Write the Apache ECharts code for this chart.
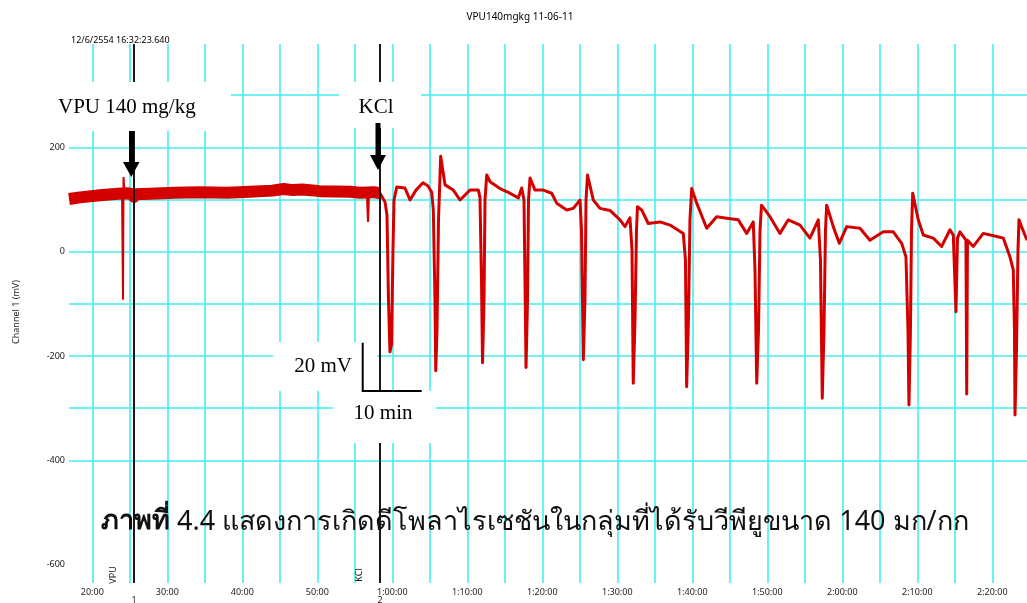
<!DOCTYPE html>
<html>
<head>
<meta charset="utf-8">
<script src="https://cdn.jsdelivr.net/npm/echarts@6/dist/echarts.min.js"></script>
<style>
  html, body { margin: 0; padding: 0; background: #fff; }
  #chart { width: 1027px; height: 603px; }
</style>
</head>
<body>
<div id="chart"></div>
<script>
// Recording: Channel 1 (mV) against elapsed time in minutes
const chartTitle = 'VPU140mgkg 11-06-11';
const recordStamp = '12/6/2554 16:32:23.640';
const channelName = 'Channel 1 (mV)';

// Axis ticks
const xLabelMinutes = [20, 30, 40, 50, 60, 70, 80, 90, 100, 110, 120, 130, 140];
const xGridMinutes = [20, 25, 30, 35, 40, 45, 50, 55, 60, 65, 70, 75, 80, 85, 90, 95, 100, 105, 110, 115, 120, 125, 130, 135, 140];
const yLabelValues = [-600, -400, -200, 0, 200];
const yGridValues = [300, 200, 100, 0, -100, -200, -300, -400];

// Drug / KCl event markers
const eventTimes = [25.56, 58.36];
const eventNames = ['VPU', 'KCl'];
const eventNumbers = ['1', '2'];

// Baseline before KCl (noisy band)
const baseTime = [16.89, 18.36, 21.03, 23.43, 24.63, 25.43, 25.56, 25.7, 27.69, 31.0, 34.36, 37.96, 41.03, 44.0, 45.5, 46.76, 48.0, 50.36, 54.36, 55.69, 57.5, 58.36];
const baseMv   = [101,   104,   108,   111,   112,   110,   105,   110,  111,   113,  114,   113,   115,   117,  120,  118,   119,  116,   115,   113,   114,  112];

// Isolated artefact spikes on the baseline
const spikeTime = [23.96, 24.09, 24.16, 24.3, null, 56.6, 56.76, 56.9];
const spikeMv   = [112,   -92,   143,   112,  null, 113,  57,    113];

// Spreading depolarisation episodes after KCl
const respTime = [58.36, 59.03, 59.29, 59.49, 59.69, 59.89, 60.09, 60.23, 60.59, 61.69, 62.36, 63.16, 64.09, 64.76, 65.25, 65.47, 65.69, 65.79, 65.96, 66.16, 66.45,
  67.03, 68.13, 69.03, 70.36, 71.47, 71.69, 71.89, 72.03, 72.23, 72.36, 72.59,
  73.03, 74.36, 75.69, 76.80, 77.25, 77.56, 77.69, 77.83, 78.03, 78.16, 78.36,
  79.03, 80.13, 81.25, 81.92, 83.25, 84.13, 85.03, 85.23, 85.47, 85.69, 85.83, 86.03,
  86.80, 87.69, 89.03, 90.36, 91.03, 91.69, 91.96, 92.13, 92.36, 92.56, 92.69,
  93.25, 94.13, 95.69, 97.03, 98.80, 99.09, 99.25, 99.49, 99.69, 99.92,
  100.59, 101.92, 103.25, 104.59, 106.13, 107.25, 108.13, 108.36, 108.59, 108.83, 109.03, 109.23,
  110.36, 111.69, 112.80, 114.36, 115.69, 116.80, 117.09, 117.33, 117.56, 117.76, 117.92,
  118.80, 119.60, 120.59, 122.36, 123.69, 125.47, 126.80, 127.92, 128.49, 128.76, 128.89, 129.09, 129.23, 129.39,
  130.13, 130.80, 132.13, 133.25, 134.36, 134.80, 135.16, 135.36, 135.69, 136.49, 136.59, 136.69,
  137.47, 138.80, 140.59, 141.47, 142.36, 142.80, 142.96, 143.03, 143.23, 143.43, 143.56, 143.96, 144.63];
const respMv = [112, 95, 70, -93, -192, -178, 3, 99, 124, 122, 99, 118, 132, 126, 114, 80, -93, -228, -150, 61, 183,
  128, 118, 99, 118, 118, 104, -54, -213, -93, 99, 147,
  134, 121, 112, 103, 122, 99, -54, -222, -93, 99, 141,
  118, 118, 112, 93, 80, 83, 99, 41, -207, -93, 99, 147,
  99, 83, 79, 61, 48, 65, 3, -252, -131, 41, 86,
  80, 54, 57, 51, 35, -16, -259, -131, 61, 121,
  93, 45, 67, 64, 61, 35, 57, -35, -252, -150, 41, 89,
  67, 35, 61, 51, 26, 61, -16, -281, -150, 41, 89,
  48, 16, 48, 45, 22, 38, 38, 16, -10, -150, -294, -150, 41, 112,
  61, 32, 26, 10, 42, 32, -115, 26, 38, 22, -273, 22,
  10, 35, 29, 26, -10, -35, -150, -313, -188, 3, 61, 46, 22];

// Figure caption
const captionBold = 'ภาพที่';
const captionText = ' 4.4 แสดงการเกิดดีโพลาไรเซชันในกลุ่มที่ได้รับวีพียูขนาด 140 มก/กก';

const pair = (ts, vs) => ts.map((t, i) => (t === null ? '-' : [t, vs[i]]));

function fmtTime(m) {
  const h = Math.floor(m / 60), mm = m % 60;
  return h ? h + ':' + String(mm).padStart(2, '0') + ':00' : mm + ':00';
}

const GRID = '#45eeee';
const TRACE = '#d40000';
const SMALL = '"Noto Sans", "DejaVu Sans", sans-serif';
const SERIF = '"Liberation Serif", "DejaVu Serif", serif';

const chart = echarts.init(document.getElementById('chart'), null, { renderer: 'canvas' });

const option = {
  animation: false,
  backgroundColor: '#fff',
  grid: { left: 69, right: 0, top: 44, bottom: 20 },
  xAxis: {
    type: 'value', min: 16.89, max: 144.63,
    axisLine: { show: false }, axisTick: { show: false }, splitLine: { show: false },
    axisLabel: { customValues: xLabelMinutes, formatter: fmtTime, margin: 5, fontSize: 9, color: '#222', fontFamily: SMALL }
  },
  yAxis: {
    type: 'value', min: -635, max: 398,
    axisLine: { show: false }, axisTick: { show: false }, splitLine: { show: false },
    axisLabel: { customValues: yLabelValues, margin: 4, fontSize: 9, color: '#222', fontFamily: SMALL }
  },
  series: [
    {
      name: 'grid', type: 'line', data: [], z: 1, silent: true,
      markLine: {
        z: 1, silent: true, symbol: ['none', 'none'], label: { show: false },
        lineStyle: { color: GRID, width: 1.6, type: 'solid' },
        data: xGridMinutes.map(m => ({ xAxis: m })).concat(yGridValues.map(v => ({ yAxis: v })))
      }
    },
    {
      name: 'baseline', type: 'line', data: pair(baseTime, baseMv), z: 3,
      showSymbol: false, lineStyle: { color: TRACE, width: 12, join: 'round' }, silent: true
    },
    {
      name: 'spikes', type: 'line', data: pair(spikeTime, spikeMv), z: 3, connectNulls: false,
      showSymbol: false, lineStyle: { color: TRACE, width: 2 }, silent: true
    },
    {
      name: 'response', type: 'line', data: pair(respTime, respMv), z: 3,
      showSymbol: false, lineStyle: { color: TRACE, width: 3, join: 'round' }, silent: true
    },
    {
      name: 'events', type: 'line', data: [], z: 4, silent: true,
      markLine: {
        z: 4, silent: true, symbol: ['none', 'none'], label: { show: false },
        lineStyle: { color: '#000', width: 1.8, type: 'solid' },
        data: eventTimes.map(t => ({ xAxis: t }))
      }
    }
  ]
};
chart.setOption(option);

// Annotations: text boxes, arrows, scale bar, captions
const ex = eventTimes.map(t => chart.convertToPixel({ xAxisIndex: 0 }, t));
const Z = 100;
const graphics = [
  { type: 'text', z: Z, style: { text: chartTitle, x: 520, y: 17, textAlign: 'center', textVerticalAlign: 'middle', font: '10px ' + SMALL, fill: '#000' } },
  { type: 'text', z: Z, style: { text: recordStamp, x: 71, y: 40, textAlign: 'left', textVerticalAlign: 'middle', font: '9px ' + SMALL, fill: '#000' } },
  { type: 'text', z: Z, x: 16, y: 312, rotation: Math.PI / 2, style: { text: channelName, x: 0, y: 0, textAlign: 'center', textVerticalAlign: 'middle', font: '9px ' + SMALL, fill: '#222' } },

  // white label boxes
  { type: 'rect', z: Z, shape: { x: 48, y: 82, width: 183, height: 49 }, style: { fill: '#fff' } },
  { type: 'rect', z: Z, shape: { x: 339, y: 82, width: 82, height: 46 }, style: { fill: '#fff' } },
  { type: 'rect', z: Z, shape: { x: 273, y: 342, width: 104, height: 49 }, style: { fill: '#fff' } },
  { type: 'rect', z: Z, shape: { x: 333, y: 391, width: 103, height: 52 }, style: { fill: '#fff' } },

  { type: 'text', z: Z + 1, style: { text: 'VPU 140 mg/kg', x: 58, y: 107, textAlign: 'left', textVerticalAlign: 'middle', font: '21px ' + SERIF, fill: '#000' } },
  { type: 'text', z: Z + 1, style: { text: 'KCl', x: 376, y: 107, textAlign: 'center', textVerticalAlign: 'middle', font: '21px ' + SERIF, fill: '#000' } },
  { type: 'text', z: Z + 1, style: { text: '20 mV', x: 352, y: 366, textAlign: 'right', textVerticalAlign: 'middle', font: '21px ' + SERIF, fill: '#000' } },
  { type: 'text', z: Z + 1, style: { text: '10 min', x: 383, y: 413, textAlign: 'center', textVerticalAlign: 'middle', font: '21px ' + SERIF, fill: '#000' } },

  // scale bar
  { type: 'polyline', z: Z + 1, shape: { points: [[362.7, 342.7], [362.7, 391], [421.7, 391]] }, style: { stroke: '#000', lineWidth: 2, fill: null } },

  // arrows
  { type: 'rect', z: Z + 1, shape: { x: 129, y: 131, width: 5, height: 32 }, style: { fill: '#000' } },
  { type: 'polygon', z: Z + 1, shape: { points: [[123, 162], [139.5, 162], [131.3, 177]] }, style: { fill: '#000' } },
  { type: 'rect', z: Z + 1, shape: { x: 375.5, y: 123, width: 5, height: 33 }, style: { fill: '#000' } },
  { type: 'polygon', z: Z + 1, shape: { points: [[370, 155], [386, 155], [378, 170]] }, style: { fill: '#000' } },

  // caption
  { type: 'text', z: Z + 2, style: {
      text: '{b|' + captionBold + '}' + captionText, x: 101, y: 522, textAlign: 'left', textVerticalAlign: 'middle',
      font: '27px "Noto Sans", "DejaVu Sans", sans-serif', fill: '#111',
      rich: { b: { fontWeight: 'bold', fontSize: 27, fill: '#111' } }
  } }
];
ex.forEach((x, i) => {
  graphics.push({ type: 'text', z: Z, x: x - 21, y: 575, rotation: Math.PI / 2, style: { text: eventNames[i], x: 0, y: 0, textAlign: 'center', textVerticalAlign: 'middle', font: '9px ' + SMALL, fill: '#222' } });
  graphics.push({ type: 'text', z: Z, style: { text: eventNumbers[i], x: x, y: 600, textAlign: 'center', textVerticalAlign: 'middle', font: '9px ' + SMALL, fill: '#222' } });
});
chart.setOption({ graphic: graphics });
</script>
</body>
</html>
